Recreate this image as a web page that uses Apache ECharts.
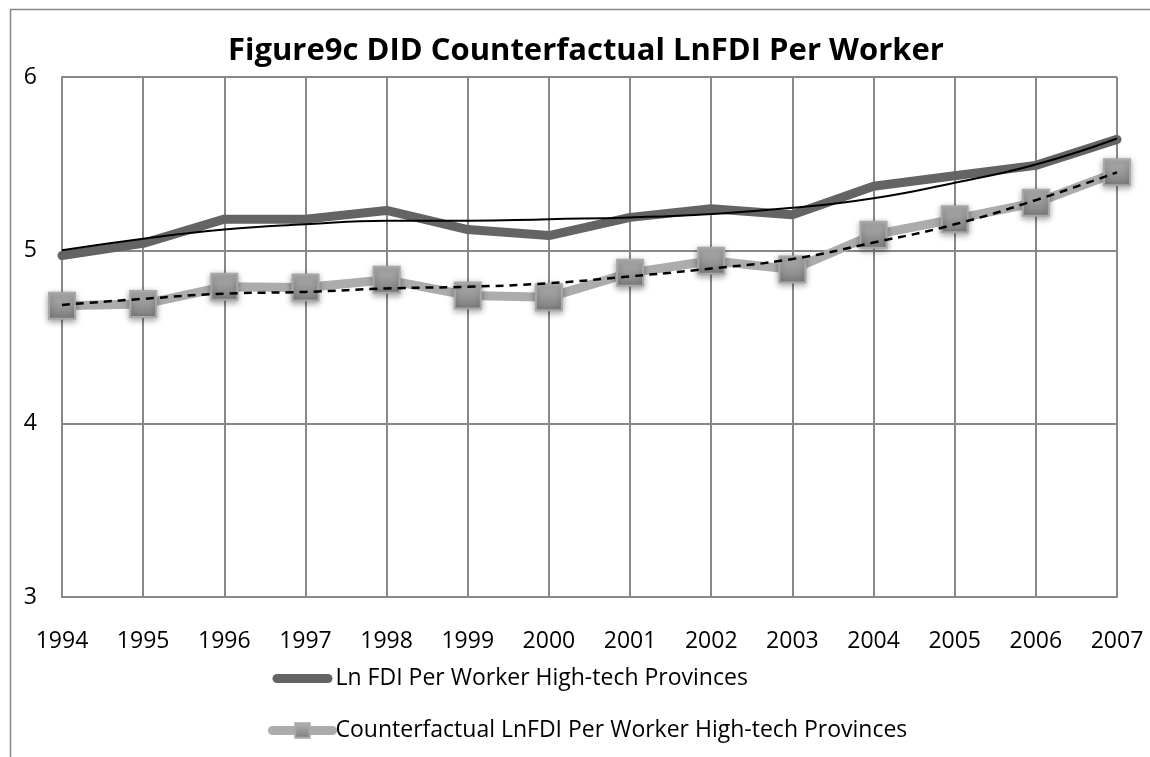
<!DOCTYPE html>
<html>
<head>
<meta charset="utf-8">
<script src="https://cdn.jsdelivr.net/npm/echarts@6/dist/echarts.min.js"></script>
<style>
html,body{margin:0;padding:0;background:#fff;}
#chart{width:1150px;height:757px;}
</style>
</head>
<body>
<div id="chart"></div>
<script>
const years = ['1994','1995','1996','1997','1998','1999','2000','2001','2002','2003','2004','2005','2006','2007'];
const lnFdi = [4.97, 5.04, 5.18, 5.18, 5.23, 5.12, 5.085, 5.19, 5.24, 5.205, 5.37, 5.43, 5.49, 5.64];
const counterfactual = [4.68, 4.69, 4.79, 4.785, 4.83, 4.74, 4.73, 4.87, 4.94, 4.89, 5.09, 5.18, 5.275, 5.45];
const lnFdiTrend = [5.0, 5.067, 5.12, 5.15, 5.17, 5.17, 5.18, 5.19, 5.21, 5.245, 5.30, 5.39, 5.495, 5.645];
const counterTrend = [4.685, 4.72, 4.75, 4.76, 4.78, 4.79, 4.81, 4.85, 4.895, 4.95, 5.045, 5.15, 5.29, 5.45];
const yTicks = [3, 4, 5, 6];
const titleText = 'Figure9c DID Counterfactual LnFDI Per Worker';
const name1 = 'Ln FDI Per Worker High-tech Provinces';
const name2 = 'Counterfactual LnFDI Per Worker High-tech Provinces';

const FONT = "'Open Sans', 'Noto Sans', sans-serif";
const GRID = '#888888';
const barIcon = 'path://M4.5,0 L55.5,0 A4.5,4.5 0 0 1 55.5,9 L4.5,9 A4.5,4.5 0 0 1 4.5,0 Z';
const chart = echarts.init(document.getElementById('chart'));
chart.setOption({
  animation: false,
  backgroundColor: '#ffffff',
  graphic: [{
    type: 'rect', left: 8, top: 7, silent: true,
    shape: {x: 0, y: 0, width: 1200, height: 800},
    style: {fill: 'none', stroke: '#868686', lineWidth: 1.5}
  }],
  title: {
    text: titleText, left: 223, top: 31,
    textStyle: {fontFamily: FONT, fontWeight: 'bold', fontSize: 31, color: '#000'}
  },
  legend: {
    data: [
      {name: name1, icon: barIcon, itemStyle: {color: '#646464'}},
      {name: name2, lineStyle: {width: 9, color: '#acacac', cap: 'round'}}
    ],
    orient: 'vertical', left: 263, top: 662,
    itemWidth: 60, itemHeight: 18, itemGap: 29, symbolKeepAspect: true,
    textStyle: {fontFamily: FONT, fontSize: 23, color: '#000', padding: [0, 0, 0, -2]}
  },
  grid: {left: 62, right: 33, top: 77, bottom: 160, containLabel: false},
  xAxis: {
    type: 'category', data: years, boundaryGap: false,
    axisLine: {show: true, lineStyle: {color: GRID, width: 2}},
    axisTick: {show: false},
    axisLabel: {fontFamily: FONT, fontSize: 23, color: '#000', margin: 33},
    splitLine: {show: true, lineStyle: {color: GRID, width: 2}}
  },
  yAxis: {
    type: 'value', min: yTicks[0], max: yTicks[yTicks.length - 1], interval: 1,
    axisLine: {show: true, lineStyle: {color: GRID, width: 2}},
    axisTick: {show: false},
    axisLabel: {fontFamily: FONT, fontSize: 23, color: '#000', margin: 25},
    splitLine: {show: true, lineStyle: {color: GRID, width: 2}}
  },
  series: [
    {
      name: name1, type: 'line', data: lnFdi, showSymbol: false, symbol: 'none',
      lineStyle: {color: '#646464', width: 9, cap: 'round', join: 'round'},
      itemStyle: {color: '#646464'}, z: 2
    },
    {
      name: name2, type: 'line', data: counterfactual, symbol: 'rect', symbolSize: 26,
      lineStyle: {color: '#acacac', width: 9, cap: 'round', join: 'round'},
      itemStyle: {
        color: new echarts.graphic.LinearGradient(0, 0, 0, 1, [
          {offset: 0, color: '#b4b4b4'}, {offset: 1, color: '#7c7c7c'}
        ]),
        borderColor: '#a8a8a8', borderWidth: 2,
        shadowBlur: 6, shadowColor: 'rgba(0,0,0,0.35)', shadowOffsetY: 2
      }, z: 3
    },
    {
      name: 'trend1', type: 'line', data: lnFdiTrend, smooth: true, symbol: 'none',
      lineStyle: {color: '#000', width: 2}, z: 4
    },
    {
      name: 'trend2', type: 'line', data: counterTrend, smooth: true, symbol: 'none',
      lineStyle: {color: '#000', width: 2.5, type: [8, 6]}, z: 5
    }
  ]
});
</script>
</body>
</html>
